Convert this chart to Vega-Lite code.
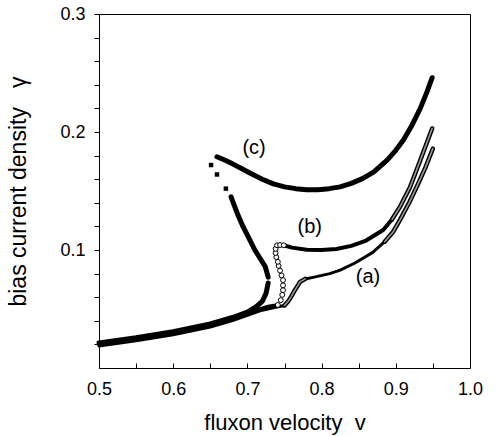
{
  "$schema": "https://vega.github.io/schema/vega-lite/v6.json",
  "width": 371,
  "height": 354,
  "autosize": {"type": "none"},
  "padding": {"left": 99, "top": 14, "right": 26, "bottom": 68},
  "config": {
    "view": {"stroke": "black", "strokeWidth": 1},
    "axis": {
      "grid": false, "domain": false, "tickColor": "black", "tickWidth": 1,
      "labelFont": "Liberation Sans", "labelFontSize": 18, "labelColor": "black", "labelFlush": false,
      "titleFont": "Liberation Sans", "titleFontWeight": "normal", "titleColor": "black"
    }
  },
  "datasets": {
    "lines": [
      {"curve": "c", "seg": "c1", "i": 0, "x": 0.50, "y": 0.0213},
      {"curve": "c", "seg": "c1", "i": 1, "x": 0.55, "y": 0.0256},
      {"curve": "c", "seg": "c1", "i": 2, "x": 0.60, "y": 0.0308},
      {"curve": "c", "seg": "c1", "i": 3, "x": 0.65, "y": 0.0373},
      {"curve": "c", "seg": "c1", "i": 4, "x": 0.68, "y": 0.0428},
      {"curve": "c", "seg": "c1", "i": 5, "x": 0.70, "y": 0.0473},
      {"curve": "c", "seg": "c1", "i": 6, "x": 0.712, "y": 0.0520},
      {"curve": "c", "seg": "c1", "i": 7, "x": 0.720, "y": 0.0565},
      {"curve": "c", "seg": "c1", "i": 8, "x": 0.725, "y": 0.0630},
      {"curve": "c", "seg": "c1", "i": 9, "x": 0.728, "y": 0.0720},
      {"curve": "c", "seg": "c2", "i": 0, "x": 0.728, "y": 0.0770},
      {"curve": "c", "seg": "c2", "i": 1, "x": 0.724, "y": 0.0860},
      {"curve": "c", "seg": "c2", "i": 2, "x": 0.717, "y": 0.0930},
      {"curve": "c", "seg": "c2", "i": 3, "x": 0.710, "y": 0.1000},
      {"curve": "c", "seg": "c2", "i": 4, "x": 0.702, "y": 0.1100},
      {"curve": "c", "seg": "c2", "i": 5, "x": 0.694, "y": 0.1200},
      {"curve": "c", "seg": "c2", "i": 6, "x": 0.687, "y": 0.1300},
      {"curve": "c", "seg": "c2", "i": 7, "x": 0.681, "y": 0.1400},
      {"curve": "c", "seg": "c2", "i": 8, "x": 0.678, "y": 0.1450},
      {"curve": "c", "seg": "c3", "i": 0, "x": 0.659, "y": 0.179},
      {"curve": "c", "seg": "c3", "i": 1, "x": 0.670, "y": 0.176},
      {"curve": "c", "seg": "c3", "i": 2, "x": 0.680, "y": 0.173},
      {"curve": "c", "seg": "c3", "i": 3, "x": 0.692, "y": 0.169},
      {"curve": "c", "seg": "c3", "i": 4, "x": 0.704, "y": 0.165},
      {"curve": "c", "seg": "c3", "i": 5, "x": 0.720, "y": 0.160},
      {"curve": "c", "seg": "c3", "i": 6, "x": 0.735, "y": 0.156},
      {"curve": "c", "seg": "c3", "i": 7, "x": 0.750, "y": 0.1535},
      {"curve": "c", "seg": "c3", "i": 8, "x": 0.765, "y": 0.152},
      {"curve": "c", "seg": "c3", "i": 9, "x": 0.780, "y": 0.151},
      {"curve": "c", "seg": "c3", "i": 10, "x": 0.795, "y": 0.151},
      {"curve": "c", "seg": "c3", "i": 11, "x": 0.810, "y": 0.152},
      {"curve": "c", "seg": "c3", "i": 12, "x": 0.825, "y": 0.1535},
      {"curve": "c", "seg": "c3", "i": 13, "x": 0.840, "y": 0.1565},
      {"curve": "c", "seg": "c3", "i": 14, "x": 0.855, "y": 0.1605},
      {"curve": "c", "seg": "c3", "i": 15, "x": 0.870, "y": 0.166},
      {"curve": "c", "seg": "c3", "i": 16, "x": 0.888, "y": 0.176},
      {"curve": "c", "seg": "c3", "i": 17, "x": 0.900, "y": 0.1845},
      {"curve": "c", "seg": "c3", "i": 18, "x": 0.910, "y": 0.193},
      {"curve": "c", "seg": "c3", "i": 19, "x": 0.922, "y": 0.206},
      {"curve": "c", "seg": "c3", "i": 20, "x": 0.933, "y": 0.220},
      {"curve": "c", "seg": "c3", "i": 21, "x": 0.942, "y": 0.234},
      {"curve": "c", "seg": "c3", "i": 22, "x": 0.949, "y": 0.246},
      {"curve": "b", "seg": "b1", "i": 0, "x": 0.50, "y": 0.0200},
      {"curve": "b", "seg": "b1", "i": 1, "x": 0.55, "y": 0.0243},
      {"curve": "b", "seg": "b1", "i": 2, "x": 0.60, "y": 0.0295},
      {"curve": "b", "seg": "b1", "i": 3, "x": 0.65, "y": 0.0360},
      {"curve": "b", "seg": "b1", "i": 4, "x": 0.68, "y": 0.0415},
      {"curve": "b", "seg": "b1", "i": 5, "x": 0.70, "y": 0.0460},
      {"curve": "b", "seg": "b1", "i": 6, "x": 0.715, "y": 0.0495},
      {"curve": "b", "seg": "b1", "i": 7, "x": 0.728, "y": 0.0520},
      {"curve": "b", "seg": "b1", "i": 8, "x": 0.738, "y": 0.0530},
      {"curve": "b", "seg": "b2", "i": 0, "x": 0.749, "y": 0.1040},
      {"curve": "b", "seg": "b2", "i": 1, "x": 0.760, "y": 0.1020},
      {"curve": "b", "seg": "b2", "i": 2, "x": 0.780, "y": 0.1003},
      {"curve": "b", "seg": "b2", "i": 3, "x": 0.800, "y": 0.1000},
      {"curve": "b", "seg": "b2", "i": 4, "x": 0.820, "y": 0.1008},
      {"curve": "b", "seg": "b2", "i": 5, "x": 0.840, "y": 0.1035},
      {"curve": "b", "seg": "b2", "i": 6, "x": 0.860, "y": 0.1080},
      {"curve": "b", "seg": "b2", "i": 7, "x": 0.883, "y": 0.1170},
      {"curve": "b", "seg": "b2", "i": 8, "x": 0.895, "y": 0.1260},
      {"curve": "a", "seg": "a1", "i": 0, "x": 0.50, "y": 0.0187},
      {"curve": "a", "seg": "a1", "i": 1, "x": 0.55, "y": 0.0230},
      {"curve": "a", "seg": "a1", "i": 2, "x": 0.60, "y": 0.0282},
      {"curve": "a", "seg": "a1", "i": 3, "x": 0.65, "y": 0.0347},
      {"curve": "a", "seg": "a1", "i": 4, "x": 0.68, "y": 0.0402},
      {"curve": "a", "seg": "a1", "i": 5, "x": 0.70, "y": 0.0447},
      {"curve": "a", "seg": "a1", "i": 6, "x": 0.720, "y": 0.0490},
      {"curve": "a", "seg": "a1", "i": 7, "x": 0.738, "y": 0.0515},
      {"curve": "a", "seg": "a1", "i": 8, "x": 0.750, "y": 0.0530},
      {"curve": "a", "seg": "a2", "i": 0, "x": 0.778, "y": 0.0755},
      {"curve": "a", "seg": "a2", "i": 1, "x": 0.790, "y": 0.0770},
      {"curve": "a", "seg": "a2", "i": 2, "x": 0.811, "y": 0.0800},
      {"curve": "a", "seg": "a2", "i": 3, "x": 0.825, "y": 0.0830},
      {"curve": "a", "seg": "a2", "i": 4, "x": 0.845, "y": 0.0890},
      {"curve": "a", "seg": "a2", "i": 5, "x": 0.869, "y": 0.0980},
      {"curve": "a", "seg": "a2", "i": 6, "x": 0.885, "y": 0.1070}
    ],
    "hatch": [
      {"seg": "a_bump", "i": 0, "x": 0.750, "y": 0.0530},
      {"seg": "a_bump", "i": 1, "x": 0.755, "y": 0.0565},
      {"seg": "a_bump", "i": 2, "x": 0.759, "y": 0.0605},
      {"seg": "a_bump", "i": 3, "x": 0.763, "y": 0.0650},
      {"seg": "a_bump", "i": 4, "x": 0.767, "y": 0.0690},
      {"seg": "a_bump", "i": 5, "x": 0.771, "y": 0.0730},
      {"seg": "a_bump", "i": 6, "x": 0.778, "y": 0.0755},
      {"seg": "a_end", "i": 0, "x": 0.885, "y": 0.107},
      {"seg": "a_end", "i": 1, "x": 0.896, "y": 0.115},
      {"seg": "a_end", "i": 2, "x": 0.906, "y": 0.126},
      {"seg": "a_end", "i": 3, "x": 0.918, "y": 0.140},
      {"seg": "a_end", "i": 4, "x": 0.930, "y": 0.156},
      {"seg": "a_end", "i": 5, "x": 0.940, "y": 0.170},
      {"seg": "a_end", "i": 6, "x": 0.950, "y": 0.186},
      {"seg": "b_end", "i": 0, "x": 0.895, "y": 0.126},
      {"seg": "b_end", "i": 1, "x": 0.906, "y": 0.137},
      {"seg": "b_end", "i": 2, "x": 0.919, "y": 0.153},
      {"seg": "b_end", "i": 3, "x": 0.933, "y": 0.176},
      {"seg": "b_end", "i": 4, "x": 0.949, "y": 0.203}
    ],
    "bcircles": [
      {"x": 0.741, "y": 0.0534}, {"x": 0.745, "y": 0.0575}, {"x": 0.747, "y": 0.0620},
      {"x": 0.748, "y": 0.0660}, {"x": 0.748, "y": 0.0700}, {"x": 0.748, "y": 0.0745},
      {"x": 0.746, "y": 0.0785}, {"x": 0.744, "y": 0.0825}, {"x": 0.742, "y": 0.0865},
      {"x": 0.741, "y": 0.0900}, {"x": 0.739, "y": 0.0940}, {"x": 0.738, "y": 0.0975},
      {"x": 0.738, "y": 0.1010}, {"x": 0.740, "y": 0.1040}, {"x": 0.744, "y": 0.1042},
      {"x": 0.749, "y": 0.1040}
    ],
    "csquares": [
      {"x": 0.651, "y": 0.172}, {"x": 0.659, "y": 0.164}, {"x": 0.671, "y": 0.152}
    ],
    "curvelabels": [
      {"text": "(c)", "x": 0.709, "y": 0.1864},
      {"text": "(b)", "x": 0.784, "y": 0.1195},
      {"text": "(a)", "x": 0.8625, "y": 0.077}
    ]
  },
  "encoding": {
    "x": {"field": "x", "type": "quantitative", "scale": {"domain": [0.5, 1.0], "nice": false, "zero": false},
          "axis": {"orient": "bottom", "values": [0.5, 0.55, 0.6, 0.65, 0.7, 0.75, 0.8, 0.85, 0.9, 0.95, 1.0], "labelExpr": "abs(datum.value * 10 - round(datum.value * 10)) < 0.01 ? format(datum.value, '.1f') : ''", "tickSize": -5, "labelPadding": 17, "title": "fluxon velocity\u00a0\u00a0v", "titleFontSize": 22, "titlePadding": 14}},
    "y": {"field": "y", "type": "quantitative", "scale": {"domain": [0, 0.3], "nice": false, "zero": false},
          "axis": {"orient": "left", "values": [0.02, 0.04, 0.06, 0.08, 0.1, 0.12, 0.14, 0.16, 0.18, 0.2, 0.22, 0.24, 0.26, 0.28, 0.3], "labelExpr": "abs(datum.value * 10 - round(datum.value * 10)) < 0.01 ? format(datum.value, '.1f') : ''", "tickSize": 5, "labelPadding": 9, "title": "bias current density\u00a0\u00a0\u00a0γ", "titleFontSize": 23, "titlePadding": 29}}
  },
  "layer": [
    {
      "data": {"name": "lines"},
      "transform": [{"filter": "datum.curve == 'c'"}],
      "mark": {"type": "line", "color": "black", "strokeWidth": 5, "strokeCap": "round", "strokeJoin": "round"},
      "encoding": {"detail": {"field": "seg"}, "order": {"field": "i", "type": "quantitative"}}
    },
    {
      "data": {"name": "lines"},
      "transform": [{"filter": "datum.curve == 'b'"}],
      "mark": {"type": "line", "color": "black", "strokeWidth": 4, "strokeCap": "round", "strokeJoin": "round"},
      "encoding": {"detail": {"field": "seg"}, "order": {"field": "i", "type": "quantitative"}}
    },
    {
      "data": {"name": "lines"},
      "transform": [{"filter": "datum.curve == 'a'"}],
      "mark": {"type": "line", "color": "black", "strokeWidth": 3, "strokeCap": "round", "strokeJoin": "round"},
      "encoding": {"detail": {"field": "seg"}, "order": {"field": "i", "type": "quantitative"}}
    },
    {
      "data": {"name": "hatch"},
      "mark": {"type": "line", "color": "black", "strokeWidth": 4.5, "strokeCap": "round", "strokeJoin": "round"},
      "encoding": {"detail": {"field": "seg"}, "order": {"field": "i", "type": "quantitative"}}
    },
    {
      "data": {"name": "hatch"},
      "mark": {"type": "line", "color": "#9a9a9a", "strokeWidth": 1.6, "strokeCap": "round", "strokeJoin": "round"},
      "encoding": {"detail": {"field": "seg"}, "order": {"field": "i", "type": "quantitative"}}
    },
    {
      "data": {"name": "csquares"},
      "mark": {"type": "point", "shape": "square", "filled": true, "color": "black", "size": 20, "opacity": 1}
    },
    {
      "data": {"name": "bcircles"},
      "mark": {"type": "point", "shape": "circle", "fill": "white", "stroke": "black", "strokeWidth": 1, "size": 24, "opacity": 1, "fillOpacity": 1}
    },
    {
      "data": {"name": "curvelabels"},
      "mark": {"type": "text", "font": "Liberation Sans", "fontSize": 20, "color": "black", "align": "center", "baseline": "middle"},
      "encoding": {"text": {"field": "text"}}
    }
  ]
}
